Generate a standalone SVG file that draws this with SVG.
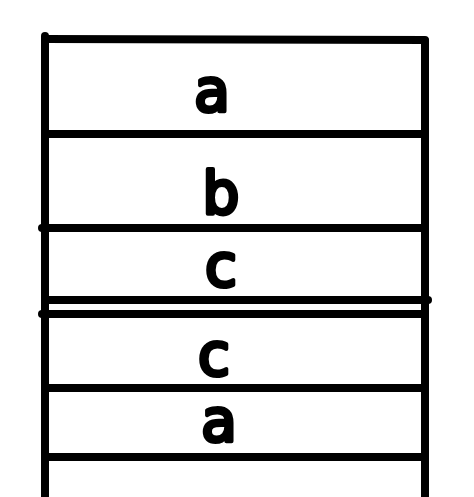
<svg xmlns="http://www.w3.org/2000/svg" width="474" height="497" viewBox="0 0 474 497">
<style>
.ln{stroke:#000;stroke-width:8;stroke-linecap:round;fill:none}
.t{font-family:"DejaVu Sans",sans-serif;font-weight:normal;font-size:58px;text-anchor:middle;fill:#000;stroke:#000;stroke-width:4;stroke-linejoin:round}
</style>
<rect width="474" height="497" fill="#fff"/>
<g id="frame">
<line class="ln" x1="45" y1="36" x2="45" y2="505"/>
<line class="ln" x1="425" y1="41" x2="425" y2="505"/>
<line class="ln" x1="45" y1="39" x2="425" y2="40"/>
<line class="ln" x1="45" y1="134" x2="425" y2="134"/>
<line class="ln" x1="42" y1="228" x2="425" y2="228"/>
<line class="ln" x1="45" y1="300" x2="428" y2="300"/>
<line class="ln" x1="42" y1="314" x2="425" y2="314"/>
<line class="ln" x1="45" y1="388" x2="425" y2="388"/>
<line class="ln" x1="45" y1="457" x2="425" y2="457"/>
</g>
<g id="row-a1"><text class="t" x="212" y="111">a</text></g>
<g id="row-b"><text class="t" x="221" y="214">b</text></g>
<g id="row-c1"><text class="t" x="221" y="286">c</text></g>
<g id="row-c2"><text class="t" x="214" y="375">c</text></g>
<g id="row-a2"><text class="t" x="219" y="441">a</text></g>
<g id="row-empty"></g>
</svg>
